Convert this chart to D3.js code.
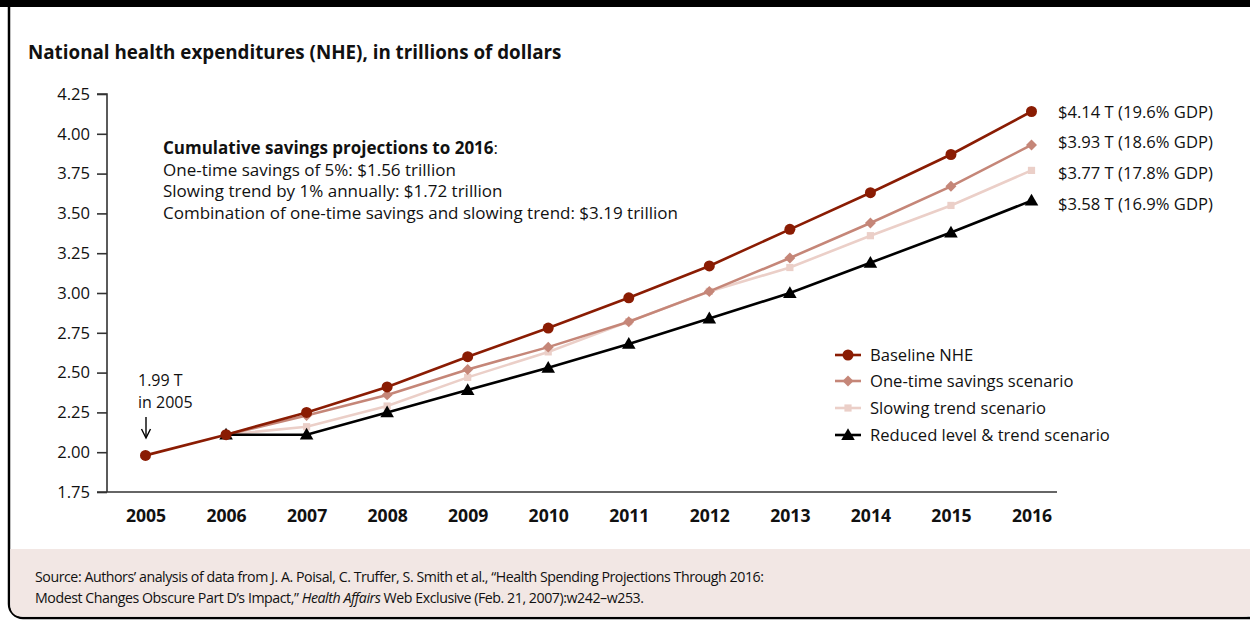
<!DOCTYPE html>
<html>
<head>
<meta charset="utf-8">
<script src="https://cdn.jsdelivr.net/npm/d3@7"></script>
<style>
  html, body { margin: 0; padding: 0; background: #fff; }
  svg { display: block; }
  text { font-family: "Open Sans", "Noto Sans", sans-serif; fill: #111; }
</style>
</head>
<body>
<svg id="chart" width="1250" height="620"></svg>
<script>
// Projected national health expenditures, trillions of dollars
const years = [2005, 2006, 2007, 2008, 2009, 2010, 2011, 2012, 2013, 2014, 2015, 2016];
const baseline   = [1.98, 2.11, 2.25, 2.41, 2.60, 2.78, 2.97, 3.17, 3.40, 3.63, 3.87, 4.14];
const oneTime    = [null, 2.11, 2.23, 2.36, 2.52, 2.66, 2.82, 3.01, 3.22, 3.44, 3.67, 3.93];
const slowTrend  = [null, 2.11, 2.16, 2.29, 2.47, 2.63, 2.82, 3.01, 3.16, 3.36, 3.55, 3.77];
const combined   = [null, 2.11, 2.11, 2.25, 2.39, 2.53, 2.68, 2.84, 3.00, 3.19, 3.38, 3.58];
const yTicks = [1.75, 2.00, 2.25, 2.50, 2.75, 3.00, 3.25, 3.50, 3.75, 4.00, 4.25];
const seriesNames = ["Baseline NHE", "One-time savings scenario", "Slowing trend scenario", "Reduced level & trend scenario"];
const endLabels = ["$4.14 T (19.6% GDP)", "$3.93 T (18.6% GDP)", "$3.77 T (17.8% GDP)", "$3.58 T (16.9% GDP)"];
const savingsTitle = "Cumulative savings projections to 2016";
const savingsLines = [
  "One-time savings of 5%: $1.56 trillion",
  "Slowing trend by 1% annually: $1.72 trillion",
  "Combination of one-time savings and slowing trend: $3.19 trillion"
];

const svg = d3.select("#chart");
const W = 1250, H = 620;
const FS = "16.6px";

// Frame: black top band, rounded outline, tinted source strip
svg.append("rect").attr("x", 9).attr("y", -20).attr("width", 1260).attr("height", 638)
  .attr("rx", 14).attr("fill", "#fff").attr("stroke", "#000").attr("stroke-width", 2.5);
svg.append("path")
  .attr("d", "M10.2,549 H1255 V604 Q1255,616.8 1243,616.8 H23 Q10.2,616.8 10.2,604 Z")
  .attr("fill", "#f2e7e4");
svg.append("rect").attr("x", 0).attr("y", 0).attr("width", W).attr("height", 7).attr("fill", "#000");

svg.append("text").attr("x", 28).attr("y", 59)
  .style("font-size", "18.8px").style("font-weight", "700")
  .text("National health expenditures (NHE), in trillions of dollars");

// Scales
const x = d3.scaleLinear().domain([2005, 2016]).range([145.5, 1031.5]);
const y = d3.scaleLinear().domain([1.75, 4.25]).range([492, 94]);

// Y axis
const yAxis = d3.axisLeft(y).tickValues(yTicks).tickFormat(d3.format(".2f")).tickSize(10).tickPadding(7);
const gy = svg.append("g").attr("transform", "translate(107,0)").call(yAxis);
gy.select(".domain").attr("d", "M-10,94 H0 V492").attr("stroke", "#333").attr("stroke-width", 1.6);
gy.selectAll(".tick line").attr("stroke", "#333").attr("stroke-width", 1.6);
gy.selectAll(".tick text").style("font-size", "16.6px").style("font-family", "'Open Sans', sans-serif").attr("fill", "#111");

// X axis: baseline rule plus bold year labels
const xAxis = d3.axisBottom(x).tickValues(years).tickFormat(d3.format("d")).tickSize(0).tickPadding(18);
const gx = svg.append("g").attr("transform", "translate(0,492)").call(xAxis);
gx.select(".domain").attr("d", "M97,0 H1057").attr("stroke", "#333").attr("stroke-width", 1.6);
gx.selectAll(".tick text").style("font-size", "17.6px").style("font-weight", "700")
  .style("font-family", "'Open Sans', sans-serif").attr("fill", "#111");

// Series markers: circle, diamond (rotated square), square, triangle
const colors = ["#8a1c03", "#c58678", "#ebcfc8", "#000"];
const shapes = [d3.symbolCircle, d3.symbolSquare, d3.symbolSquare, d3.symbolTriangle];
const sizes = [95, 60, 52, 80];
const rotate = [0, 45, 0, 0];
const nudge = [0, 0, 0, 1];
const allSeries = [baseline, oneTime, slowTrend, combined];
const line = d3.line().x(d => x(d[0])).y(d => y(d[1]));
const marker = i => d3.symbol().type(shapes[i]).size(sizes[i]);

const order = [2, 1, 3, 0];
order.forEach(i => {
  const pts = years.map((yr, k) => [yr, allSeries[i][k]]).filter(d => d[1] != null);
  svg.append("path").datum(pts).attr("d", line)
    .attr("fill", "none").attr("stroke", colors[i]).attr("stroke-width", 2.6);
  svg.append("g").selectAll("path").data(pts).join("path")
    .attr("transform", d => `translate(${x(d[0])},${y(d[1]) + nudge[i]}) rotate(${rotate[i]})`)
    .attr("d", marker(i))
    .attr("fill", colors[i]);
});

// End-of-line labels
const endY = [112, 142, 173, 204];
endLabels.forEach((t, i) => {
  svg.append("text").attr("x", 1058).attr("y", endY[i]).attr("dy", "0.35em")
    .style("font-size", FS).text(t);
});

// Savings note
const noteFS = "17px";
const note = svg.append("text").attr("x", 163).attr("y", 154).style("font-size", noteFS);
note.append("tspan").style("font-weight", "700").text(savingsTitle);
note.append("tspan").text(":");
savingsLines.forEach((t, i) => {
  svg.append("text").attr("x", 163).attr("y", 175.5 + i * 21.5).style("font-size", noteFS).text(t);
});

// 2005 callout
svg.append("text").attr("x", 138).attr("y", 386).style("font-size", "16px").text("1.99 T");
svg.append("text").attr("x", 138).attr("y", 408).style("font-size", "16px").text("in 2005");
svg.append("line").attr("x1", 146).attr("x2", 146).attr("y1", 417).attr("y2", 437)
  .attr("stroke", "#000").attr("stroke-width", 1.4);
svg.append("path").attr("d", "M141.5,429 L146,438 L150.5,429").attr("fill", "none")
  .attr("stroke", "#000").attr("stroke-width", 1.4);

// Legend
const legY = [355, 381, 408, 435];
seriesNames.forEach((name, i) => {
  const g = svg.append("g").attr("transform", `translate(848,${legY[i]})`);
  g.append("line").attr("x1", -13).attr("x2", 13).attr("stroke", colors[i]).attr("stroke-width", 2.6);
  g.append("path").attr("d", marker(i)).attr("fill", colors[i])
    .attr("transform", `translate(0,${nudge[i]}) rotate(${rotate[i]})`);
  g.append("text").attr("x", 22).attr("dy", "0.35em").style("font-size", FS).text(name);
});

// Source note
const src = svg.append("g").style("font-size", "14.2px").style("letter-spacing", "-0.45px");
src.append("text").attr("x", 35).attr("y", 582)
  .text("Source: Authors\u2019 analysis of data from J. A. Poisal, C. Truffer, S. Smith et al., \u201CHealth Spending Projections Through 2016:");
const s2 = src.append("text").attr("x", 35).attr("y", 603);
s2.append("tspan").text("Modest Changes Obscure Part D\u2019s Impact,\u201D ");
s2.append("tspan").style("font-style", "italic").text("Health Affairs");
s2.append("tspan").text(" Web Exclusive (Feb. 21, 2007):w242\u2013w253.");
</script>
</body>
</html>
